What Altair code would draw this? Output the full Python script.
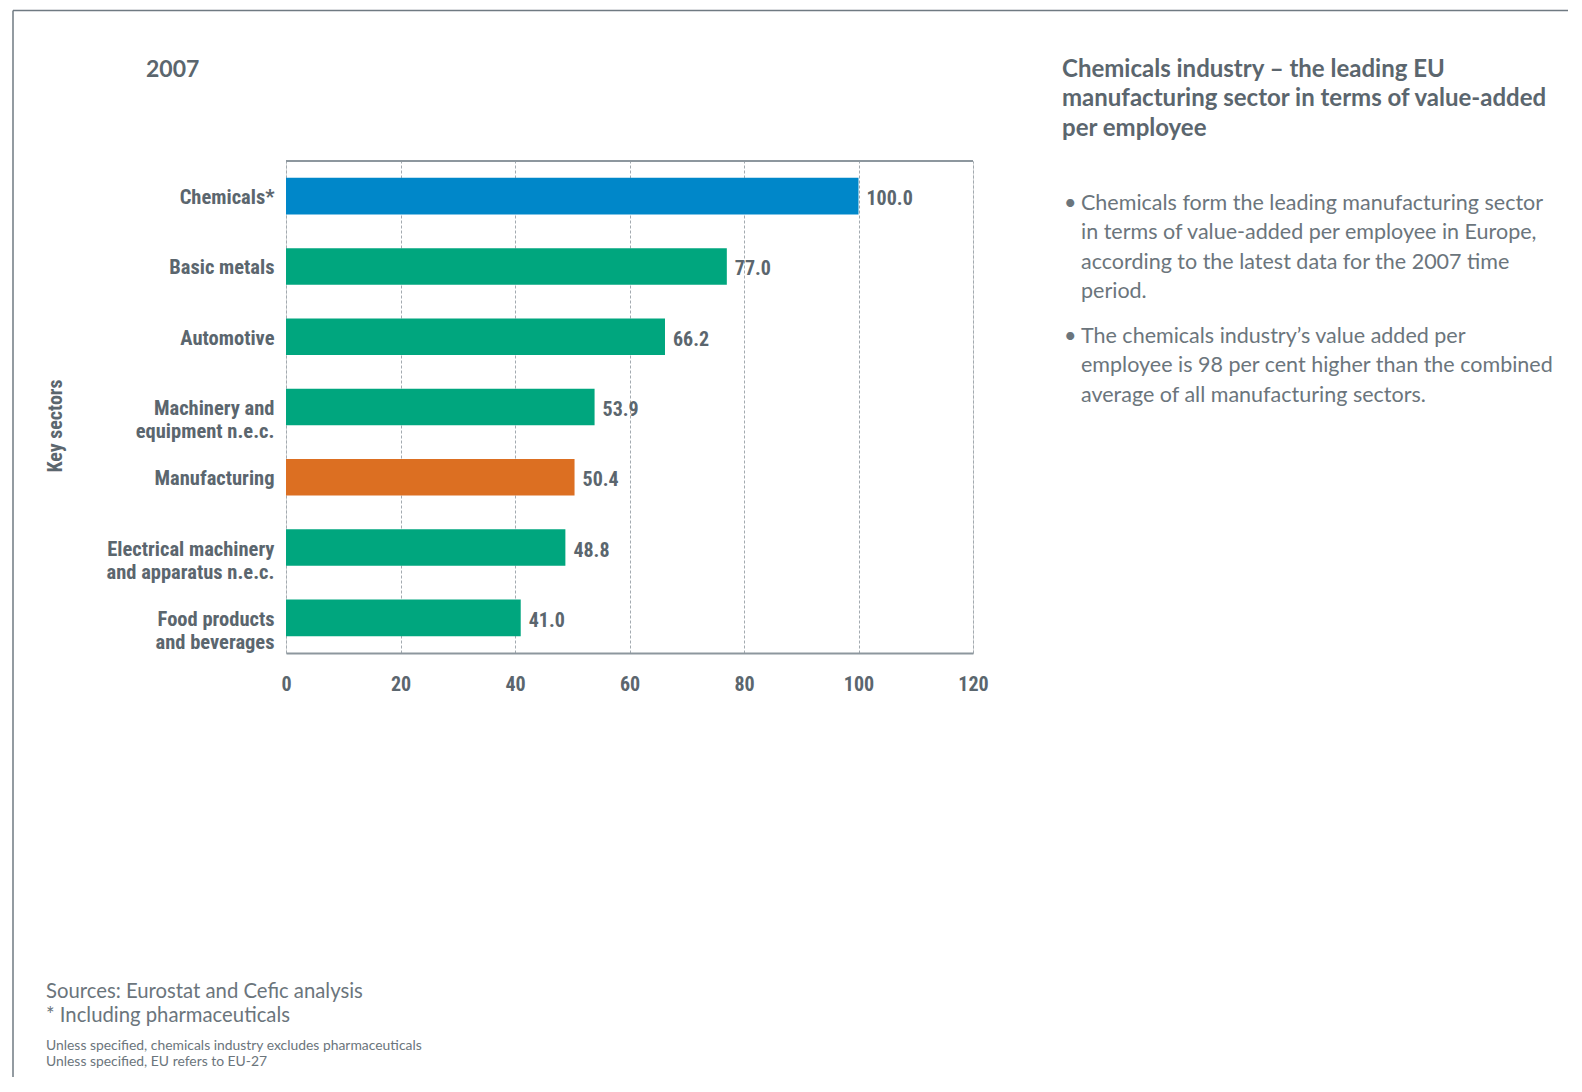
import altair as alt
import pandas as pd

# ---- data ----
sectors = ["Chemicals*", "Basic metals", "Automotive", "Machinery and|equipment n.e.c.",
           "Manufacturing", "Electrical machinery|and apparatus n.e.c.", "Food products|and beverages"]
values = [100.0, 77.0, 66.2, 53.9, 50.4, 48.8, 41.0]
groups = ["Chemicals", "Sector", "Sector", "Sector", "Manufacturing", "Sector", "Sector"]
x_ticks = [0, 20, 40, 60, 80, 100, 120]

year_label = "2007"
y_title = "Key sectors"
side_title = "Chemicals industry – the leading EU\nmanufacturing sector in terms of value-added\nper employee"
bullet1 = "Chemicals form the leading manufacturing sector\nin terms of value-added per employee in Europe,\naccording to the latest data for the 2007 time\nperiod."
bullet2 = "The chemicals industry’s value added per\nemployee is 98 per cent higher than the combined\naverage of all manufacturing sectors."
sources = "Sources: Eurostat and Cefic analysis\n* Including pharmaceuticals"
notes = "Unless specified, chemicals industry excludes pharmaceuticals\nUnless specified, EU refers to EU-27"

df = pd.DataFrame({"sector": sectors, "value": values, "group": groups})
df["label"] = df["value"].map(lambda v: f"{v:.1f}")

W, H = 687, 492
NARROW = "Roboto Condensed, Roboto, sans-serif"
HUMAN = "Lato"
DARK = "#5b666e"
LIGHT = "#6b757c"
FRAME = "#6f7a82"
TOP = 153

y_enc = alt.Y("sector:N", sort=sectors,
              scale=alt.Scale(paddingInner=0.48, paddingOuter=0.24),
              axis=alt.Axis(title=None, labelExpr="split(datum.label, '|')",
                            labelFont=NARROW, labelFontWeight="bold", labelFontSize=20.5,
                            labelColor=DARK, labelLineHeight=23, labelPadding=12,
                            labelOffset=2,
                            ticks=False, domain=False, grid=False, labelLimit=400))
x_enc = alt.X("value:Q", scale=alt.Scale(domain=[0, 120], nice=False),
              axis=alt.Axis(title=None, values=x_ticks, grid=True, gridDash=[3, 2],
                            gridColor="#a3aab0", gridWidth=1, ticks=False,
                            domain=True, domainColor="#8d979e", domainWidth=2,
                            labelFont=NARROW, labelFontWeight="bold", labelFontSize=20,
                            labelColor=DARK, labelPadding=21, labelFlush=False))

base = alt.Chart(df).encode(y=y_enc)

bars = base.mark_bar().encode(
    x=x_enc,
    color=alt.Color("group:N",
                    scale=alt.Scale(domain=["Chemicals", "Sector", "Manufacturing"],
                                    range=["#0087c9", "#00a67e", "#dc6f22"]),
                    legend=None),
)
vals = base.mark_text(align="left", baseline="middle", dx=8, dy=3, font=NARROW,
                      fontWeight="bold", fontSize=20, color=DARK).encode(
    x=alt.X("value:Q"), text="label:N")

top_rule = alt.Chart(pd.DataFrame({"a": [0]})).mark_rule(color="#8d979e", strokeWidth=2).encode(
    x=alt.value(0), x2=alt.value(W), y=alt.value(0))


def txt(s, x, y, size, weight="normal", font=HUMAN, color=DARK, lh=None, angle=0,
        baseline="top", align="left"):
    kw = dict(align=align, baseline=baseline, font=font, fontSize=size,
              fontWeight=weight, color=color, lineBreak="\n")
    if lh:
        kw["lineHeight"] = lh
    if angle:
        kw["angle"] = angle
    return alt.Chart(pd.DataFrame({"t": [s]})).mark_text(**kw).encode(
        text="t:N", x=alt.value(x), y=alt.value(y))


def rule(x, x2, y, y2):
    return alt.Chart(pd.DataFrame({"a": [0]})).mark_rule(color=FRAME, strokeWidth=1.5).encode(
        x=alt.value(x), x2=alt.value(x2), y=alt.value(y), y2=alt.value(y2))


d = 160 - (TOP + 8)  # shift for annotations relative to plot origin
layers = [
    bars, vals, top_rule,
    rule(-273, 1290, -149.5 + d, -149.5 + d),
    rule(-273, -273, -149.5 + d, 930),
    txt(year_label, -140, -90 + d, 23, "bold", baseline="middle"),
    txt(y_title, -230, 266 + d, 20, "bold", font=NARROW, angle=270, baseline="middle", align="center"),
    txt(side_title, 776, -102 + d, 24, "bold", lh=29.3),
    txt("•", 778, 33 + d, 21.5, color=LIGHT),
    txt("•", 778, 166 + d, 21.5, color=LIGHT),
    txt(bullet1, 795, 33 + d, 21.5, color=LIGHT, lh=29.3),
    txt(bullet2, 795, 166 + d, 21.5, color=LIGHT, lh=29.3),
    txt(sources, -240, 822 + d, 20.3, color=LIGHT, lh=24.2),
    txt(notes, -240, 879 + d, 13.9, color=LIGHT, lh=16),
]

chart = alt.layer(*layers).properties(
    width=W, height=H,
    autosize=alt.AutoSizeParams(type="none"),
    padding={"left": 278, "top": TOP, "right": 595, "bottom": 424},
).configure_view(fill="#e1e5e8", stroke=None).configure(background="white")

chart.save("out.html", embed_options={"renderer": "svg", "actions": False})
